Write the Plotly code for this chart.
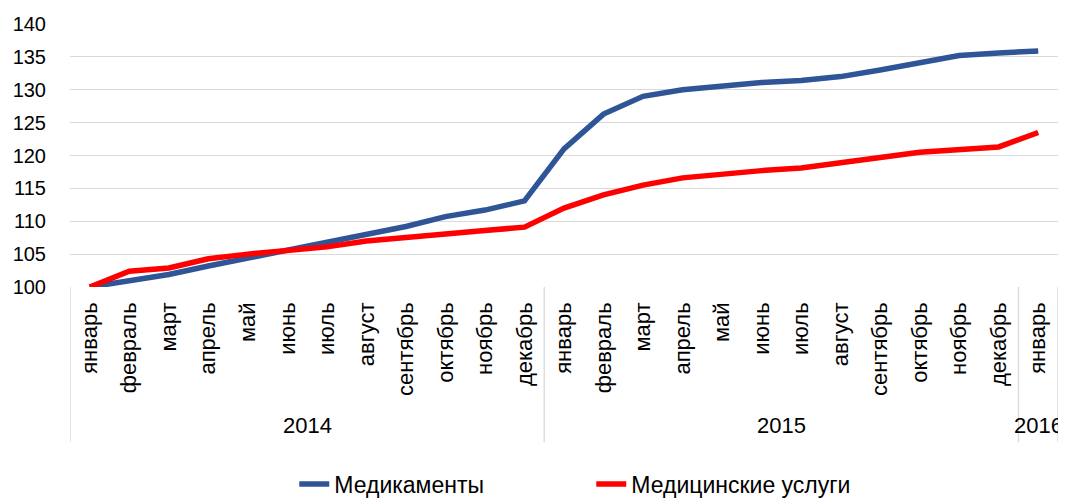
import plotly.graph_objects as go

months = ["январь", "февраль", "март", "апрель", "май", "июнь", "июль",
          "август", "сентябрь", "октябрь", "ноябрь", "декабрь"]
years = ["2014"] * 12 + ["2015"] * 12 + ["2016"]
month_labels = months + months + ["январь"]

medicines = [100, 101.0, 101.9, 103.2, 104.4, 105.5, 106.7, 107.9, 109.2, 110.7, 111.7, 113.1,
             121.0, 126.3, 129.0, 130.0, 130.6, 131.1, 131.4, 132.0, 133.0, 134.2, 135.2, 135.6, 135.9]
med_services = [100, 102.4, 102.9, 104.3, 105.0, 105.6, 106.1, 107.0, 107.6, 108.1, 108.6, 109.1,
                112.0, 114.0, 115.5, 116.6, 117.2, 117.7, 118.1, 118.8, 119.7, 120.5, 121.0, 121.3, 123.5]

idx = list(range(len(month_labels)))
grid_col = "#d9d9d9"
font_fam = "Liberation Sans, Arial, sans-serif"

fig = go.Figure()
fig.add_trace(go.Scatter(x=idx, y=medicines, mode="lines", name="Медикаменты",
                         line=dict(color="#2F5597", width=5.5)))
fig.add_trace(go.Scatter(x=idx, y=med_services, mode="lines", name="Медицинские услуги",
                         line=dict(color="#FF0000", width=5.5)))

# year groups: labels + dividers under the axis
groups = []
for i, yr in enumerate(years):
    if not groups or groups[-1][0] != yr:
        groups.append([yr, i, i])
    else:
        groups[-1][2] = i

bounds = set()
for yr, a, b in groups:
    fig.add_annotation(x=(a + b) / 2, y=-0.525, xref="x", yref="paper", text=yr,
                       showarrow=False, yanchor="middle",
                       font=dict(family=font_fam, size=22, color="#000000"))
    bounds.add(a - 0.5)
    bounds.add(b + 0.5)
for xb in sorted(bounds):
    fig.add_shape(type="line", xref="x", yref="paper", x0=xb, x1=xb, y0=0, y1=-0.59,
                  line=dict(color=grid_col, width=1.3))

# page body has an 8px margin, so the figure is a bit smaller and shifted
fig.update_layout(
    width=1058, height=492,
    margin=dict(l=62, r=8, t=16, b=213, autoexpand=False),
    plot_bgcolor="white", paper_bgcolor="white",
    font=dict(family=font_fam, color="#000000"),
    showlegend=True,
    legend=dict(orientation="h", x=0.227, xanchor="left", y=-0.749, yanchor="middle",
                font=dict(family=font_fam, size=23), entrywidth=252, entrywidthmode="pixels"),
)
fig.update_xaxes(range=[-0.5, 24.5], tickmode="array", tickvals=idx, ticktext=month_labels,
                 tickangle=-90, tickfont=dict(size=22), showgrid=False, zeroline=False,
                 showline=False, ticks="", ticklabelstandoff=10)
fig.update_yaxes(range=[100, 140], dtick=5, showgrid=True, gridcolor=grid_col, gridwidth=1.3,
                 zeroline=False, showline=False, ticks="", tickfont=dict(size=20),
                 ticklabelstandoff=23)

fig.write_html("out.html")
